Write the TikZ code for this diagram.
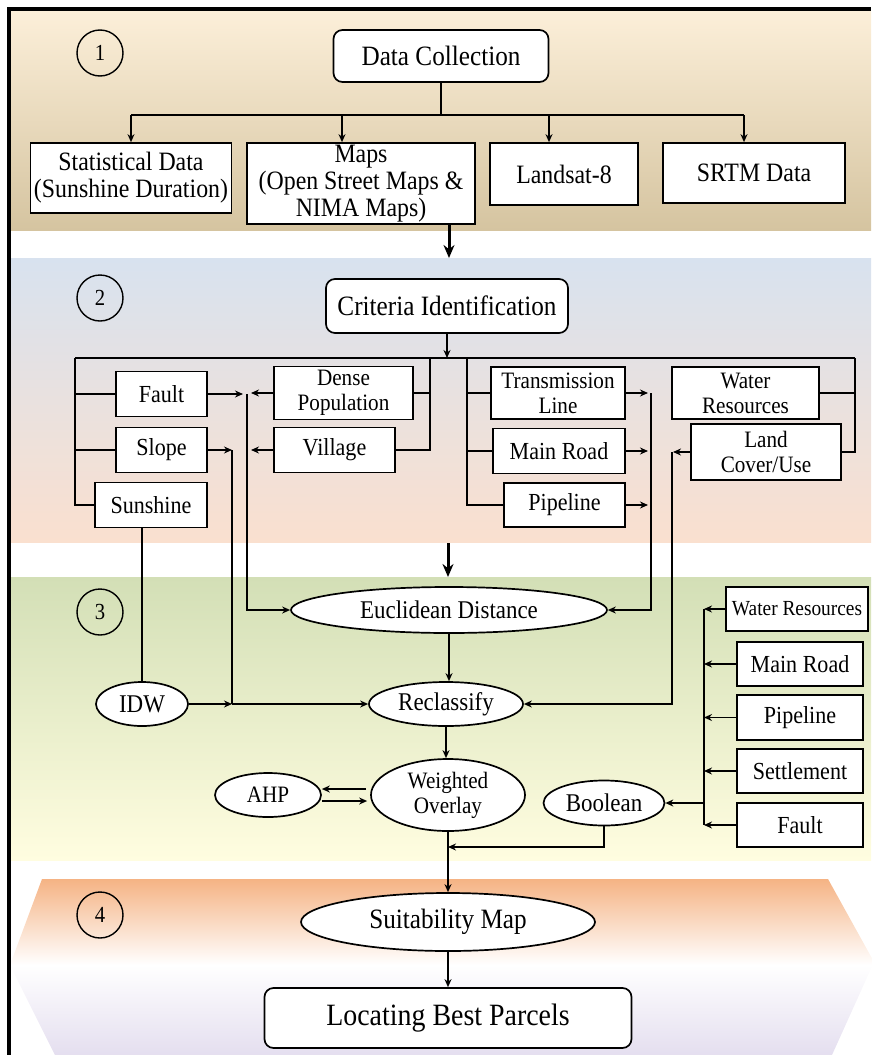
\documentclass[tikz,border=0pt]{standalone}
\usepackage{fontspec}
\setmainfont{Liberation Serif}[FakeStretch=0.9]
\usetikzlibrary{arrows.meta,shapes.geometric,calc}
\definecolor{bAtop}{HTML}{FCEFD9}
\definecolor{bAmid}{HTML}{F1E3C8}
\definecolor{bAbot}{HTML}{D5C4A0}
\definecolor{bBtop}{HTML}{D8E2EF}
\definecolor{bBmid}{HTML}{EFE6E5}
\definecolor{bBbot}{HTML}{FAE0CF}
\definecolor{bCtop}{HTML}{D3DFB6}
\definecolor{bCmid}{HTML}{EAF0C6}
\definecolor{bCbot}{HTML}{FFFDE0}
\definecolor{bDtop}{HTML}{F5B384}
\definecolor{bDmid}{HTML}{FBE3D2}
\definecolor{bDbot}{HTML}{E4DEEF}
\begin{document}
\begin{tikzpicture}[x=1pt,y=-1pt,
  box/.style={draw=black, line width=1.7pt, fill=white, inner sep=0pt, align=center, font=\fontsize{24.5}{26}\selectfont},
  boxA/.style={box, font=\fontsize{26.5}{27}\selectfont},
  two/.style={box, font=\fontsize{23.5}{25}\selectfont},
  rbox/.style={box, rounded corners=9pt, font=\fontsize{28}{30}\selectfont},
  ell/.style={ellipse, draw=black, line width=1.7pt, fill=white, inner sep=0pt, align=center, font=\fontsize{25.5}{27}\selectfont},
  num/.style={circle, draw=black, line width=1.4pt, minimum size=46pt, inner sep=0pt, font=\fontsize{23}{24}\selectfont},
  ln/.style={line width=1.4pt},
  arr/.style={ln, -{Stealth[length=8pt,width=7pt]}},
  bigarr/.style={line width=3pt, -{Stealth[length=13pt,width=11pt]}},
]
\useasboundingbox (0,0) rectangle (871,1055);
% ---------- backgrounds ----------
\shade[top color=bAtop, middle color=bAmid, bottom color=bAbot] (11,11) rectangle (871,230);
\shade[top color=bBtop, middle color=bBmid, bottom color=bBbot] (11,258) rectangle (871,542);
\shade[top color=bCtop, middle color=bCmid, bottom color=bCbot] (11,577) rectangle (871,860);
\begin{scope}
  \clip (42,879) -- (828,879) -- (874,962) -- (832,1055) -- (55,1055) -- (10,965) -- cycle;
  \shade[top color=bDtop, middle color=bDmid, bottom color=white] (0,879) rectangle (880,965);
  \shade[top color=white, bottom color=bDbot] (0,965) rectangle (880,1056);
\end{scope}
\draw[line width=3.5pt] (9,1055) -- (9,9) -- (871,9);

% ---------- section numbers ----------
\node[num] (n1) at (100,53) {1};
\node[num] (n2) at (100,298) {2};
\node[num] (n3) at (100,612) {3};
\node[num] (n4) at (100,915) {4};

% ---------- section 1 ----------
\node[rbox, minimum width=215pt, minimum height=52pt] (dc) at (441,56) {Data Collection};
\node[boxA, minimum width=201pt, minimum height=70pt] (stat) at (131,178) {Statistical Data\\(Sunshine Duration)};
\node[boxA, minimum width=228pt, minimum height=81pt] (maps) at (361,183.5) {Maps\\(Open Street Maps \&\\NIMA Maps)};
\node[boxA, minimum width=148pt, minimum height=62pt] (lsat) at (564,174) {Landsat-8};
\node[boxA, minimum width=182pt, minimum height=60pt] (srtm) at (754,173) {SRTM Data};
\coordinate (s1j) at (441,115);
\coordinate (s1a) at (131,115);
\coordinate (s1b) at (342,115);
\coordinate (s1c) at (549,115);
\coordinate (s1d) at (744,115);
\draw[ln] (dc.south) -- (s1j);
\draw[ln] (s1a) -- (s1d);
\draw[arr] (s1a) -- (stat.north);
\draw[arr] (s1b) -- (s1b |- maps.north);
\draw[arr] (s1c) -- (s1c |- lsat.north);
\draw[arr] (s1d) -- (s1d |- srtm.north);
\coordinate (t1) at (449,258);
\draw[bigarr] (t1 |- maps.south) -- (t1);

% ---------- section 2 ----------
\node[rbox, minimum width=242pt, minimum height=54pt] (crit) at (447,306) {Criteria Identification};
\coordinate (L) at (75,358);
\coordinate (R) at (855,358);
\coordinate (Lin) at (430,358);
\coordinate (Rin) at (467,358);
\draw[ln] (L) -- (R);
\draw[arr] (crit.south) -- (crit.south |- L);

\node[box, minimum width=91pt, minimum height=45pt] (fault) at (161.5,394) {Fault};
\node[box, minimum width=91pt, minimum height=45pt] (slope) at (161.5,450) {Slope};
\node[box, minimum width=112pt, minimum height=45pt] (sun) at (151,505) {Sunshine};
\node[two, minimum width=139pt, minimum height=53pt] (dense) at (343.5,393) {Dense\\Population};
\node[box, minimum width=121pt, minimum height=45pt] (vill) at (334.5,450) {Village};
\node[two, minimum width=134pt, minimum height=52pt] (trans) at (558,393) {Transmission\\Line};
\node[box, minimum width=132pt, minimum height=45pt] (mroad) at (559,451) {Main Road};
\node[box, minimum width=121pt, minimum height=44pt] (pipe) at (564.5,505) {Pipeline};
\node[two, minimum width=147pt, minimum height=52pt] (water) at (745.5,393) {Water\\Resources};
\node[two, minimum width=150pt, minimum height=56pt] (lcov) at (766,452) {Land\\Cover/Use};

\draw[ln] (L) |- (sun.west);
\draw[ln] (L |- fault.west) -- (fault.west);
\draw[ln] (L |- slope.west) -- (slope.west);
\draw[ln] (Lin) |- (vill.east);
\draw[ln] (Lin |- dense.east) -- (dense.east);
\draw[ln] (Rin) |- (pipe.west);
\draw[ln] (Rin |- trans.west) -- (trans.west);
\draw[ln] (Rin |- mroad.west) -- (mroad.west);
\draw[ln] (R) |- (lcov.east);
\draw[ln] (R |- water.east) -- (water.east);

\coordinate (cA) at (247,0);
\coordinate (cS) at (232,0);
\coordinate (cB) at (651,0);
\coordinate (cC) at (672,0);
\draw[arr] (fault.east) -- ($(fault.east -| cA)+(-4,0)$);
\draw[arr] (dense.west) -- ($(dense.west -| cA)+(4,0)$);
\draw[arr] (vill.west) -- ($(vill.west -| cA)+(4,0)$);
\draw[arr] (slope.east) -- (slope.east -| cS);
\draw[arr] (trans.east) -- ($(trans.east -| cB)+(-3,0)$);
\draw[arr] (mroad.east) -- ($(mroad.east -| cB)+(-3,0)$);
\draw[arr] (pipe.east) -- ($(pipe.east -| cB)+(-3,0)$);
\draw[arr] (lcov.west) -- ($(lcov.west -| cC)+(1,0)$);

\coordinate (t2a) at (448,543);
\coordinate (t2b) at (448,577);
\draw[bigarr] (t2a) -- (t2b);

% ---------- section 3 ----------
\node[ell, minimum width=316pt, minimum height=46pt] (eucl) at (449,610) {Euclidean Distance};
\node[ell, minimum width=154pt, minimum height=44pt] (recl) at (446,704) {Reclassify};
\node[ell, minimum width=92pt, minimum height=44pt] (idw) at (142,704) {IDW};
\node[ell, minimum width=154pt, minimum height=72pt, font=\fontsize{23.5}{25}\selectfont] (wo) at (448,795) {Weighted\\Overlay};
\node[ell, minimum width=106pt, minimum height=44pt, font=\fontsize{23.5}{25}\selectfont] (ahp) at (268,795) {AHP};
\node[ell, minimum width=121pt, minimum height=45pt] (bool) at (604,803) {Boolean};

\node[box, minimum width=142pt, minimum height=44pt, font=\fontsize{21.5}{23}\selectfont] (wat2) at (797,609) {Water Resources};
\node[box, minimum width=126pt, minimum height=44pt] (mr2) at (800,664) {Main Road};
\node[box, minimum width=126pt, minimum height=45pt] (pp2) at (800,717.5) {Pipeline};
\node[box, minimum width=126pt, minimum height=44pt] (set2) at (800,771) {Settlement};
\node[box, minimum width=126pt, minimum height=44pt] (fa2) at (800,825) {Fault};

\draw[arr] (fault.east -| cA) |- (eucl.west);
\draw[ln] (slope.east -| cS) -- (cS |- recl.west);
\draw[ln] (idw.north |- sun.south) -- (idw.north);
\draw[arr] (idw.east) -- (idw.east -| cS);
\draw[arr] (idw.east -| cS) -- (recl.west);
\draw[arr] (trans.east -| cB) |- (eucl.east);
\draw[arr] (lcov.west -| cC) |- (recl.east);
\draw[arr] (eucl.south) -- (eucl.south |- recl.north);
\draw[arr] (recl.south) -- (recl.south |- wo.north);
\draw[arr] ($(wo.west)+(-4,-6)$) -- ($(ahp.east)+(0,-6)$);
\draw[arr] ($(ahp.east)+(0,6)$) -- ($(wo.west)+(-3,6)$);

\coordinate (cD) at (704,0);
\draw[ln] (cD |- wat2.west) -- (cD |- fa2.west);
\draw[arr] (wat2.west) -- (wat2.west -| cD);
\draw[arr] (mr2.west) -- (mr2.west -| cD);
\draw[arr] (pp2.west) -- (pp2.west -| cD);
\draw[arr] (set2.west) -- (set2.west -| cD);
\draw[arr] (fa2.west) -- (fa2.west -| cD);
\draw[arr] (cD |- bool.east) -- (bool.east);

% ---------- section 4 ----------
\node[ell, minimum width=294pt, minimum height=58pt, font=\fontsize{28}{30}\selectfont] (suit) at (448,922) {Suitability Map};
\node[rbox, minimum width=367pt, minimum height=60pt, font=\fontsize{31}{32}\selectfont] (loc) at (448,1018) {Locating Best Parcels};
\coordinate (bj) at (448,847);
\draw[arr] (bool.south) |- (bj);
\draw[arr] (wo.south) -- (suit.north);
\draw[arr] (suit.south) -- (loc.north);
\end{tikzpicture}
\end{document}
